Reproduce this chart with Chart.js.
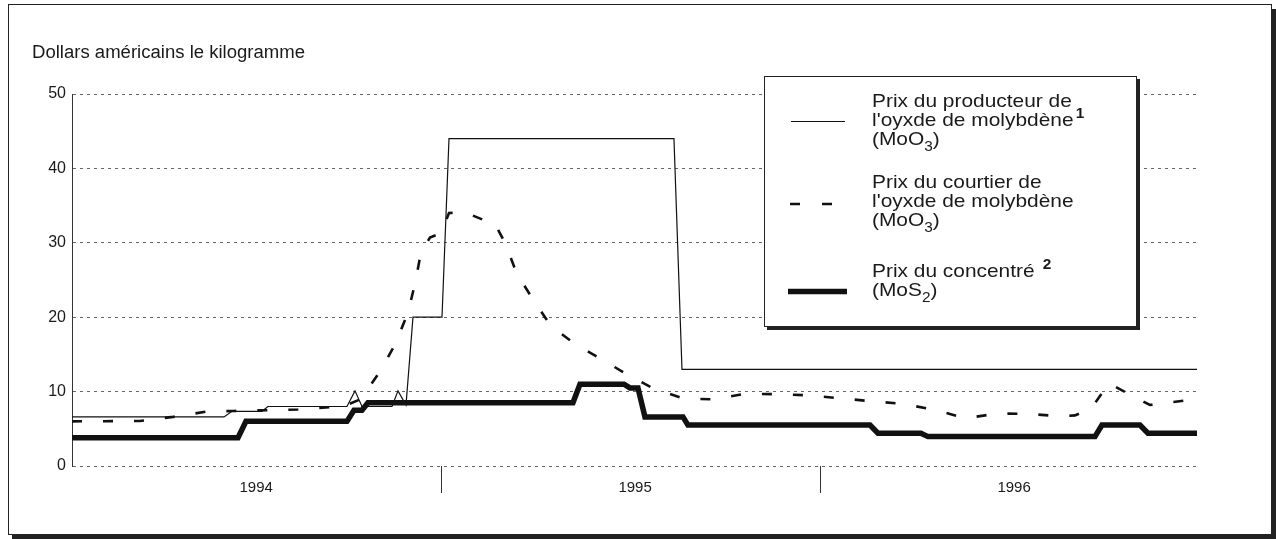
<!DOCTYPE html>
<html><head><meta charset="utf-8">
<style>html,body{margin:0;padding:0;background:#fff;overflow:hidden}canvas{display:block}</style>
<script src="https://cdn.jsdelivr.net/npm/chart.js@4.4.1/dist/chart.umd.min.js"></script>
</head><body>
<canvas id="c" width="1276" height="539"></canvas>
<script>
// ---- data (x = week index counted from 1 Jan 1994, y = US$ per kg) ----
const years = ['1994', '1995', '1996'];
const weeksPerYear = 52;
const xStartWeek = 1.23;
const xEndWeek = 155.6;
const yTickValues = [0, 10, 20, 30, 40, 50];
const yAxisTitle = 'Dollars américains le kilogramme';

const producerWeeks  = [1.23, 22.09, 23.18, 27.3, 28.12, 38.96, 40.06, 41.02, 45.14, 45.96, 47.06, 48.02, 52.0, 52.96, 83.83, 84.93, 155.6];
const producerPrices = [6.6, 6.6, 7.35, 7.35, 8.0, 8.0, 10.1, 8.0, 8.0, 10.1, 8.2, 20, 20, 44, 44, 13, 13];

const brokerWeeks  = [1.23, 10.56, 15.09, 19.62, 23.46, 27.99, 32.24, 36.63, 38.69, 40.88, 43.49, 45.55, 47.33, 48.29, 49.12, 50.35, 51.86, 52.96, 55.15, 57.62, 59.13, 60.64, 62.29, 64.48, 66.95, 70.25, 73.82, 77.38, 80.95, 85.07, 89.18, 93.57, 97.96, 102.22, 106.61, 111.0, 115.25, 119.64, 123.76, 128.15, 132.4, 136.79, 138.85, 141.05, 143.52, 149.14, 155.6];
const brokerPrices = [6.0, 6.05, 6.6, 7.3, 7.4, 7.5, 7.6, 7.9, 8.1, 9.0, 12.7, 16.3, 20.6, 24.5, 28.7, 30.7, 31.3, 34.0, 34.1, 33.1, 32.8, 30, 25.8, 22.4, 18.8, 16.4, 14.4, 12.3, 10.45, 9.1, 8.95, 9.7, 9.65, 9.5, 9.1, 8.7, 8.35, 7.55, 6.4, 7.05, 7.0, 6.7, 6.8, 7.7, 11.1, 8.2, 9.0];

const concentrateWeeks  = [1.23, 24.01, 25.1, 38.96, 39.92, 41.02, 41.84, 69.97, 70.93, 76.97, 77.79, 78.89, 79.85, 85.07, 85.75, 110.73, 111.82, 117.72, 118.68, 141.6, 142.56, 147.77, 148.87, 155.6];
const concentratePrices = [3.8, 3.8, 6.0, 6.0, 7.5, 7.5, 8.5, 8.5, 11.0, 11.0, 10.5, 10.5, 6.6, 6.6, 5.5, 5.5, 4.4, 4.4, 3.95, 3.95, 5.5, 5.5, 4.4, 4.4];

const legendProducer = [[{t: 'Prix du producteur de'}], [{t: "l'oyxde de molybdène"}, {t: '1', sup: true}], [{t: '(MoO'}, {t: '3', sub: true}, {t: ')'}]];
const legendBroker = [[{t: 'Prix du courtier de'}], [{t: "l'oyxde de molybdène"}], [{t: '(MoO'}, {t: '3', sub: true}, {t: ')'}]];
const legendConcentrate = [[{t: 'Prix du concentré '}, {t: '2', sup: true}], [{t: '(MoS'}, {t: '2', sub: true}, {t: ')'}]];

const pts = (xs, ys) => xs.map((x, i) => ({x: x, y: ys[i]}));
const FONT = '"Liberation Sans", Arial, Helvetica, sans-serif';
const INK = '#1a1a1a';

function drawRich(ctx, x, y, parts, size, sx) {
  ctx.save();
  ctx.translate(x, y);
  ctx.scale(sx, 1);
  let cx = 0;
  for (const p of parts) {
    if (p.sup) {
      ctx.font = 'bold ' + Math.round(size * 0.72) + 'px ' + FONT;
      cx += 2;
      ctx.fillText(p.t, cx, -size * 0.42);
    } else if (p.sub) {
      ctx.font = Math.round(size * 0.75) + 'px ' + FONT;
      ctx.fillText(p.t, cx, size * 0.33);
    } else {
      ctx.font = size + 'px ' + FONT;
      ctx.fillText(p.t, cx, 0);
    }
    cx += ctx.measureText(p.t).width;
  }
  ctx.restore();
}

const framePlugin = {
  id: 'frame',
  beforeDraw(chart) {
    const ctx = chart.ctx;
    ctx.save();
    ctx.fillStyle = '#fff';
    ctx.fillRect(0, 0, chart.width, chart.height);
    ctx.strokeStyle = '#222';
    ctx.lineWidth = 1;
    ctx.strokeRect(8.5, 4.5, 1263, 530);
    ctx.fillStyle = '#222';
    ctx.fillRect(1272, 9, 4, 530);
    ctx.fillRect(12, 535, 1264, 4);
    ctx.fillStyle = INK;
    ctx.textBaseline = 'alphabetic';
    drawRich(ctx, 32, 58, [{t: yAxisTitle}], 18, 1.03);
    ctx.restore();
  },
  afterDraw(chart) {
    const ctx = chart.ctx;
    ctx.save();
    // legend box with shadow
    const L = 764, T = 76, R = 1137, B = 327;
    ctx.fillStyle = '#222';
    ctx.fillRect(L + 3, B, R - L, 3);
    ctx.fillRect(R, T + 3, 3, B - T);
    ctx.fillStyle = '#fff';
    ctx.fillRect(L, T, R - L, B - T);
    ctx.strokeStyle = '#222';
    ctx.lineWidth = 1;
    ctx.strokeRect(L + 0.5, T + 0.5, R - L - 1, B - T - 1);
    // samples
    ctx.strokeStyle = '#111';
    ctx.lineWidth = 1.2;
    ctx.beginPath(); ctx.moveTo(791, 121.5); ctx.lineTo(845, 121.5); ctx.stroke();
    ctx.lineWidth = 2.6;
    ctx.setLineDash([10, 22]);
    ctx.beginPath(); ctx.moveTo(790, 204); ctx.lineTo(845, 204); ctx.stroke();
    ctx.setLineDash([]);
    ctx.lineWidth = 5.5;
    ctx.beginPath(); ctx.moveTo(788, 291.5); ctx.lineTo(847, 291.5); ctx.stroke();
    // texts
    ctx.fillStyle = INK;
    ctx.textBaseline = 'alphabetic';
    const size = 19, lh = 19, tx = 872;
    const groups = [[legendProducer, 107], [legendBroker, 188], [legendConcentrate, 277]];
    for (const [lines, y0] of groups) {
      lines.forEach((ln, i) => drawRich(ctx, tx, y0 + i * lh, ln, size, 1.1));
    }
    ctx.restore();
  }
};

new Chart(document.getElementById('c'), {
  type: 'line',
  data: {
    datasets: [
      {label: 'Prix du producteur', data: pts(producerWeeks, producerPrices), borderColor: '#111', borderWidth: 1.2, pointRadius: 0, tension: 0, order: 2},
      {label: 'Prix du courtier', data: pts(brokerWeeks, brokerPrices), borderColor: '#111', borderWidth: 2.6, borderDash: [10, 21], pointRadius: 0, tension: 0, order: 3},
      {label: 'Prix du concentré', data: pts(concentrateWeeks, concentratePrices), borderColor: '#111', borderWidth: 5.5, pointRadius: 0, tension: 0, order: 1, borderJoinStyle: 'miter'}
    ]
  },
  options: {
    responsive: false,
    animation: false,
    layout: {padding: {left: 0, right: 79, top: 94, bottom: 0}},
    plugins: {legend: {display: false}, tooltip: {enabled: false}},
    scales: {
      x: {
        type: 'linear', min: xStartWeek, max: xEndWeek,
        afterBuildTicks: s => {
          const t = [];
          for (let i = 0; i < years.length; i++) {
            t.push({value: i * weeksPerYear + 26.5});
            if (i < years.length - 1) t.push({value: (i + 1) * weeksPerYear});
          }
          s.ticks = t;
        },
        afterFit: s => { s.height = 73; },
        ticks: {
          autoSkip: false, maxRotation: 0, minRotation: 0, padding: -14, color: INK,
          font: {family: FONT, size: 15},
          callback: v => (v % weeksPerYear !== 0) ? years[Math.floor(v / weeksPerYear)] : ''
        },
        grid: {
          drawOnChartArea: false, drawTicks: true, tickLength: 27, lineWidth: 1,
          color: c => (c.tick && c.tick.value % weeksPerYear === 0) ? '#333' : 'rgba(0,0,0,0)'
        },
        border: {display: false}
      },
      y: {
        min: 0, max: 50,
        afterBuildTicks: s => { s.ticks = yTickValues.map(v => ({value: v})); },
        afterFit: s => { s.width = 72; },
        ticks: {padding: 6, color: INK, font: {family: FONT, size: 16}},
        grid: {drawTicks: false, color: '#666', lineWidth: 1},
        border: {display: true, color: '#333', width: 1, dash: [3, 4]}
      }
    }
  },
  plugins: [framePlugin]
});
</script>
</body></html>
